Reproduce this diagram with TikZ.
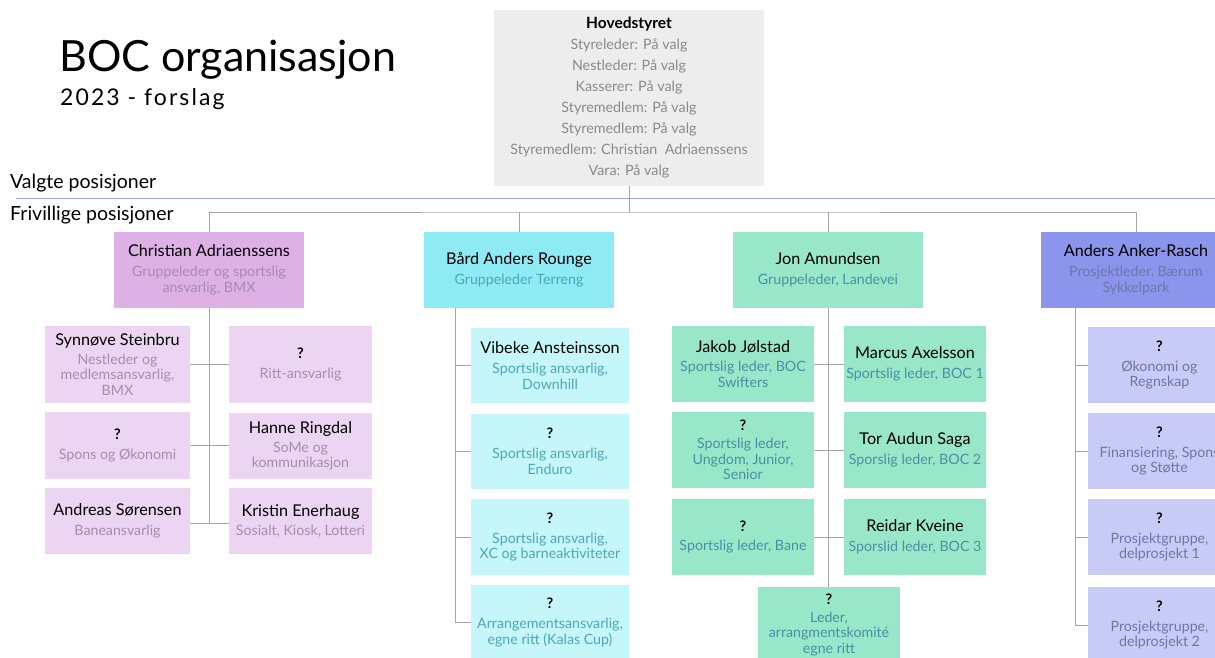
\documentclass[tikz,border=0pt]{standalone}
\usepackage{fontspec}
\setmainfont{Lato}
\definecolor{hsfill}{HTML}{EDEDED}
\definecolor{hstext}{HTML}{8A8A8A}
\definecolor{purG}{HTML}{DDB0E6}
\definecolor{purS}{HTML}{ECD5F2}
\definecolor{purT}{HTML}{A58DAE}
\definecolor{cyaG}{HTML}{8EEBF4}
\definecolor{cyaS}{HTML}{C5F6FA}
\definecolor{cyaT}{HTML}{4FA6B5}
\definecolor{minG}{HTML}{98E7C8}
\definecolor{minS}{HTML}{98E7C8}
\definecolor{minT}{HTML}{4C8EA6}
\definecolor{bluG}{HTML}{8C95EC}
\definecolor{bluS}{HTML}{C7CBF6}
\definecolor{bluT}{HTML}{6E75A8}
\definecolor{conn}{HTML}{A6A6A6}
\definecolor{sepline}{HTML}{9AAAC8}
\newcommand\boxname[1]{{\fontsize{16.2}{18}\selectfont\color{black}#1}}
\newcommand\qmark{{\fontsize{14.5}{17}\selectfont\bfseries\color{black}?}}
\tikzset{
  orgbox/.style={rectangle, draw=none, inner sep=1pt, outer sep=0pt, align=center,
    font=\fontsize{14.2}{15.8}\selectfont},
  grpbox/.style={orgbox, minimum width=190pt, minimum height=76pt},
  pur/.style={fill=#1, text=purT},
  cya/.style={fill=#1, text=cyaT},
  min/.style={fill=#1, text=minT},
  blu/.style={fill=#1, text=bluT},
  link/.style={draw=conn, line width=1pt},
  lbl/.style={anchor=base west, inner sep=0pt, font=\fontsize{19.5}{22}\selectfont}
}
\begin{document}
\begin{tikzpicture}[x=1pt,y=-1pt]
\useasboundingbox (0,0) rectangle (1215,658);
\fill[white] (0,0) rectangle (1215,658);

% title
\node[anchor=base west, inner sep=0pt, font=\fontsize{43}{43}\selectfont] (title) at (59,72) {BOC organisasjon};
\node[anchor=base west, inner sep=0pt, font=\fontsize{23}{23}\selectfont\addfontfeatures{LetterSpace=9}] (subtitle) at (60,106) {2023 - forslag};

% section labels and separator
\node[lbl] (valgte) at (10,188) {Valgte posisjoner};
\node[lbl] (frivillige) at (10,220) {Frivillige posisjoner};
\coordinate (sepL) at (16,198);
\coordinate (sepR) at (1215,198);
\draw[sepline, line width=1pt] (sepL) -- (sepR);

% Hovedstyret
\node[orgbox, fill=hsfill, text=hstext, minimum width=270pt, minimum height=176pt,
      font=\fontsize{14.3}{21}\selectfont] (hs) at (629,98)
  {{\fontsize{15.5}{21}\selectfont\bfseries\color{black}Hovedstyret}\\Styreleder: På valg\\Nestleder: På valg\\Kasserer: På valg\\Styremedlem: På valg\\Styremedlem: På valg\\Styremedlem: Christian\ \ Adriaenssens\\Vara: På valg};

% group heads
\node[grpbox, pur=purG] (chr) at (209,270) {\boxname{Christian Adriaenssens}\\[4pt]Gruppeleder og sportslig\\ansvarlig, BMX};
\node[grpbox, cya=cyaG] (bar) at (519,270) {\boxname{Bård Anders Rounge}\\[4pt]Gruppeleder Terreng};
\node[grpbox, min=minG] (jon) at (828,270) {\boxname{Jon Amundsen}\\[4pt]Gruppeleder, Landevei};
\node[grpbox, blu=bluG] (and) at (1136,270) {\boxname{Anders Anker-Rasch}\\[4pt]Prosjektleder, Bærum\\Sykkelpark};

% top bus
\coordinate (bus) at (629,212);
\draw[link] (hs.south) -- (bus);
\draw[link] (chr.north) |- (bus) -| (and.north);
\draw[link] (bar.north) -- (bar.north |- bus);
\draw[link] (jon.north) -- (jon.north |- bus);

% Christian group
\node[orgbox, pur=purS, minimum width=145pt, minimum height=77pt] (syn) at (117.5,364.5) {\boxname{Synnøve Steinbru}\\[3pt]Nestleder og\\medlemsansvarlig,\\BMX};
\node[orgbox, pur=purS, minimum width=143pt, minimum height=77pt] (rit) at (300.5,364.5) {\qmark\\[4pt]Ritt-ansvarlig};
\node[orgbox, pur=purS, minimum width=145pt, minimum height=67pt] (spo) at (117.5,445.5) {\qmark\\[4pt]Spons og Økonomi};
\node[orgbox, pur=purS, minimum width=143pt, minimum height=66pt] (han) at (300.5,446) {\boxname{Hanne Ringdal}\\[3pt]SoMe og\\kommunikasjon};
\node[orgbox, pur=purS, minimum width=145pt, minimum height=66pt] (aso) at (117.5,521) {\boxname{Andreas Sørensen}\\[4pt]Baneansvarlig};
\node[orgbox, pur=purS, minimum width=143pt, minimum height=66pt] (kri) at (300.5,521) {\boxname{Kristin Enerhaug}\\[4pt]Sosialt, Kiosk, Lotteri};
\coordinate (chrEnd) at (209,523);
\draw[link] (chr.south) -- (chrEnd);
\draw[link] (syn.east) -- (rit.west);
\draw[link] (spo.east) -- (han.west |- spo.east);
\draw[link] (aso.east |- chrEnd) -- (kri.west |- chrEnd);

% Bård group
\node[orgbox, cya=cyaS, minimum width=158pt, minimum height=75pt] (vib) at (550,365.5) {\boxname{Vibeke Ansteinsson}\\[4pt]Sportslig ansvarlig,\\Downhill};
\node[orgbox, cya=cyaS, minimum width=158pt, minimum height=75pt] (end) at (550,451.5) {\qmark\\[4pt]Sportslig ansvarlig,\\Enduro};
\node[orgbox, cya=cyaS, minimum width=158pt, minimum height=76pt] (xc) at (550,537) {\qmark\\[4pt]Sportslig ansvarlig,\\XC og barneaktiviteter};
\node[orgbox, cya=cyaS, minimum width=158pt, minimum height=75pt] (arr) at (550,622.5) {\qmark\\[4pt]Arrangementsansvarlig,\\egne ritt (Kalas Cup)};
\coordinate (barT) at (455,308);
\draw[link] (barT) |- (vib.west);
\draw[link] (barT) |- (end.west);
\draw[link] (barT) |- (xc.west);
\draw[link] (barT) |- (arr.west);

% Jon group
\node[orgbox, min=minS, minimum width=142pt, minimum height=76pt] (jak) at (743,364) {\boxname{Jakob Jølstad}\\[4pt]Sportslig leder, BOC\\Swifters};
\node[orgbox, min=minS, minimum width=142pt, minimum height=76pt] (ung) at (743,450) {\qmark\\[2pt]Sportslig leder,\\Ungdom, Junior,\\Senior};
\node[orgbox, min=minS, minimum width=142pt, minimum height=76pt] (ban) at (743,537) {\qmark\\[4pt]Sportslig leder, Bane};
\node[orgbox, min=minS, minimum width=142pt, minimum height=76pt] (mar) at (915,364) {\boxname{Marcus Axelsson}\\[4pt]Sportslig leder, BOC 1};
\node[orgbox, min=minS, minimum width=142pt, minimum height=76pt] (tor) at (915,450) {\boxname{Tor Audun Saga}\\[4pt]Sporslig leder, BOC 2};
\node[orgbox, min=minS, minimum width=142pt, minimum height=76pt] (rei) at (915,537) {\boxname{Reidar Kveine}\\[4pt]Sporslid leder, BOC 3};
\node[orgbox, min=minS, minimum width=142pt, minimum height=76pt] (lea) at (829,625) {\qmark\\[2pt]Leder,\\arrangmentskomité\\egne ritt};
\draw[link] (jon.south) -- (jon.south |- lea.north);
\draw[link] (jak.east) -- (mar.west);
\draw[link] (ung.east) -- (tor.west);
\draw[link] (ban.east) -- (rei.west);

% Anders group
\node[orgbox, blu=bluS, minimum width=143pt, minimum height=76pt] (oko) at (1159.5,365) {\qmark\\[4pt]Økonomi og\\Regnskap};
\node[orgbox, blu=bluS, minimum width=143pt, minimum height=76pt] (fin) at (1159.5,451) {\qmark\\[4pt]Finansiering, Spons\\og Støtte};
\node[orgbox, blu=bluS, minimum width=143pt, minimum height=76pt] (pg1) at (1159.5,537) {\qmark\\[4pt]Prosjektgruppe,\\delprosjekt 1};
\node[orgbox, blu=bluS, minimum width=143pt, minimum height=76pt] (pg2) at (1159.5,625) {\qmark\\[4pt]Prosjektgruppe,\\delprosjekt 2};
\coordinate (andT) at (1075,308);
\draw[link] (andT) |- (oko.west);
\draw[link] (andT) |- (fin.west);
\draw[link] (andT) |- (pg1.west);
\draw[link] (andT) |- (pg2.west);
\end{tikzpicture}
\end{document}
